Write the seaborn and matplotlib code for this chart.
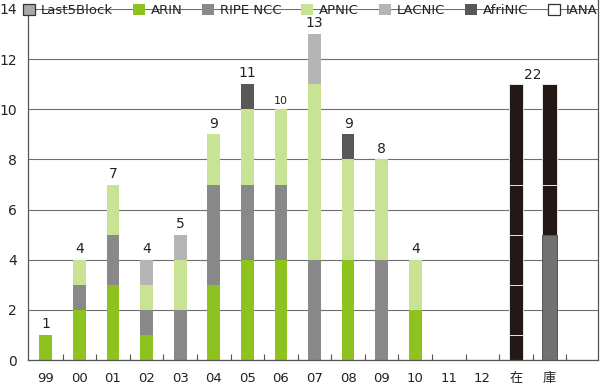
import numpy as np
import pandas as pd
import matplotlib
matplotlib.use("Agg")
import matplotlib.pyplot as plt
from matplotlib.patches import Patch
import seaborn as sns

categories = ["99", "00", "01", "02", "03", "04", "05", "06", "07", "08", "09", "10", "11", "12", "在", "庫"]
arin    = [1, 2, 3, 1, 0, 3, 4, 4, 0, 4, 0, 2, 0, 0, 0, 0]
ripe    = [0, 1, 2, 1, 2, 4, 3, 3, 4, 0, 4, 0, 0, 0, 0, 0]
apnic   = [0, 1, 2, 1, 2, 2, 3, 3, 7, 4, 4, 2, 0, 0, 0, 0]
lacnic  = [0, 0, 0, 1, 1, 0, 0, 0, 2, 0, 0, 0, 0, 0, 0, 0]
afrinic = [0, 0, 0, 0, 0, 0, 1, 0, 0, 1, 0, 0, 0, 0, 0, 0]
totals  = ["1", "4", "7", "4", "5", "9", "11", "10", "13", "9", "8", "4", "", "", "", ""]
stock_gray = [0] * 14 + [0, 5]
stock_black = [  # segments stacked bottom to top
    [0] * 14 + [1, 2],
    [0] * 14 + [2, 4],
    [0] * 14 + [2, 0],
    [0] * 14 + [2, 0],
    [0] * 14 + [4, 0],
]
stock_total_label = "22"

legend_names = ["Last5Block", "ARIN", "RIPE NCC", "APNIC", "LACNIC", "AfriNIC", "IANA"]
legend_colors = ["#a9a9a9", "#8dc21f", "#898989", "#c9e394", "#b5b5b5", "#595757", "#ffffff"]
legend_edges = ["#333333", "none", "none", "none", "none", "none", "#333333"]

sns.set_theme(style="white")
plt.rcParams["font.family"] = ["DejaVu Sans", "Noto Sans CJK JP"]

fig = plt.figure(figsize=(6, 3.87), dpi=100)
ax = fig.add_axes([28 / 600, 27 / 387, 570 / 600, 351 / 387])

# regular stacked layers
layers = [("ARIN", arin, "#8dc21f"), ("RIPE NCC", ripe, "#898989"),
          ("APNIC", apnic, "#c9e394"), ("LACNIC", lacnic, "#b5b5b5"),
          ("AfriNIC", afrinic, "#595757")]
cum = np.cumsum([np.array(v) for _, v, _ in layers], axis=0)
for i in range(len(layers) - 1, -1, -1):
    df = pd.DataFrame({"cat": categories, "val": cum[i]})
    sns.barplot(data=df, x="cat", y="val", order=categories, color=layers[i][2],
                width=0.38, saturation=1, ax=ax, linewidth=0)

# stock bars
stock_layers = [("gray", stock_gray, "#727171")] + [("black", s, "#231815") for s in stock_black]
scum = np.cumsum([np.array(v) for _, v, _ in stock_layers], axis=0)
for i in range(len(stock_layers) - 1, -1, -1):
    df = pd.DataFrame({"cat": categories, "val": scum[i]})
    sub = df[df["cat"].isin(["在", "庫"])]
    sns.barplot(data=sub, x="cat", y="val", order=categories, color=stock_layers[i][2],
                width=0.44, saturation=1, ax=ax, linewidth=0.7,
                edgecolor="#e8e8e8" if i > 0 else "#555555")

# total labels
tot = cum[-1]
for i, lab in enumerate(totals):
    if lab:
        ax.text(i, tot[i] + 0.15, lab, ha="center", va="bottom",
                fontsize=8 if lab == "10" else 10, color="#222222")
ax.text(14.5, scum[-1][14] + 0.1, stock_total_label, ha="center", va="bottom",
        fontsize=10, color="#222222")

ax.set_xlim(-0.53, 16.44)
ax.set_ylim(0, 14)
ax.set_yticks(range(0, 15, 2))
ax.yaxis.grid(True, color="#6e6e6e", linewidth=0.8)
ax.set_axisbelow(True)
ax.set_xlabel("")
ax.set_ylabel("")
ax.spines["top"].set_visible(False)
for s in ["left", "right", "bottom"]:
    ax.spines[s].set_color("#555555")
    ax.spines[s].set_linewidth(0.9)
ax.spines["right"].set_bounds(0, 14.4)
ax.spines["left"].set_bounds(0, 14)

ax.set_xticks(range(len(categories)))
ax.set_xticklabels(categories)
ax.set_xticks(np.arange(0.5, 16, 1), minor=True)
ax.tick_params(axis="x", which="major", length=0, pad=8.5, labelsize=9.5, colors="#222222")
ax.tick_params(axis="x", which="minor", length=4, direction="in", width=0.8, color="#555555",
               bottom=True)
ax.tick_params(axis="y", length=0, pad=8, labelsize=10, colors="#222222")

handles = [Patch(facecolor=c, edgecolor=e, linewidth=0.9) for c, e in zip(legend_colors, legend_edges)]
leg = fig.legend(handles, legend_names, loc="upper left", bbox_to_anchor=(19 / 600, 1.0),
                 ncol=7, frameon=False, fontsize=9.5, handlelength=0.9, handleheight=0.9,
                 handletextpad=0.45, columnspacing=1.5, borderpad=0.15, borderaxespad=0.15)
for t in leg.get_texts():
    t.set_color("#222222")

fig.savefig("out.png", dpi=100)
